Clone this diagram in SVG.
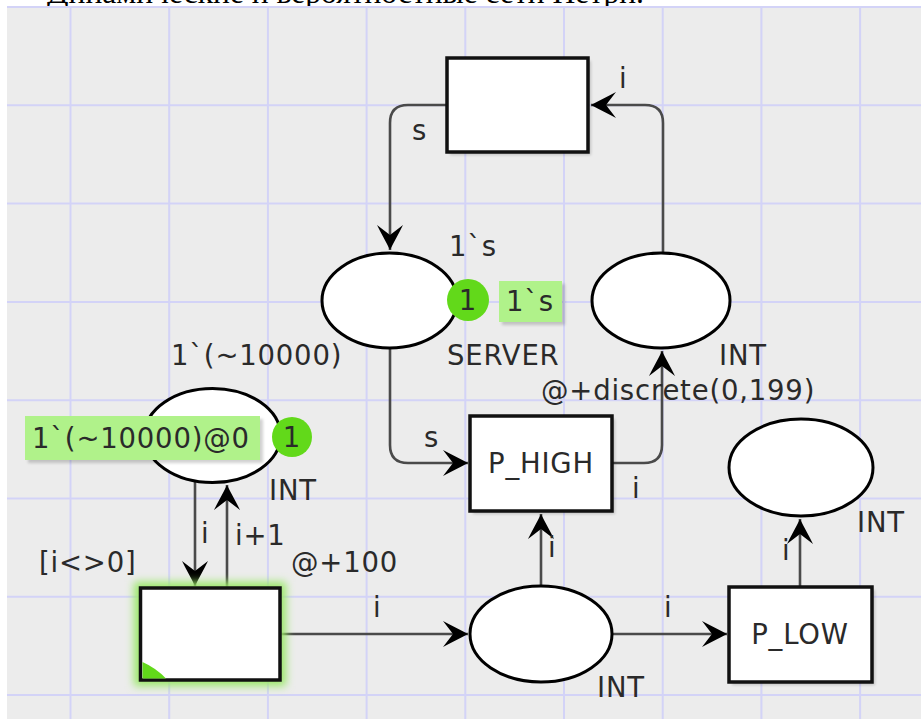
<svg xmlns="http://www.w3.org/2000/svg" width="921" height="719" viewBox="0 0 921 719">
<defs>
<style>
.grid line{stroke:#d3d3f7;stroke-width:2}
.place{fill:#fff;stroke:#000;stroke-width:3}
.trans{fill:#fff;stroke:#111;stroke-width:3.5}
.arc{fill:none;stroke:#4a4a4a;stroke-width:2.6}
.lbl{font-family:"DejaVu Sans",Verdana,sans-serif;font-size:27.5px;fill:#2a2a2a;letter-spacing:0.8px}
.tokc{fill:#62d91a}
.tokbox{fill:#b0f28a}
.shadow{fill:#000;opacity:0.18}
</style>
<marker id="ah" viewBox="-28 -15 30 30" markerWidth="30" markerHeight="30" refX="0" refY="0" orient="auto" markerUnits="userSpaceOnUse">
<path d="M0,0 C-8,-4 -17,-9 -25,-13 L-15,0 L-25,13 C-17,9 -8,4 0,0 Z" fill="#000"/>
</marker>
<filter id="glow" x="-30%" y="-30%" width="160%" height="160%">
<feGaussianBlur stdDeviation="4"/>
</filter>
<filter id="soft" x="-20%" y="-20%" width="140%" height="140%">
<feGaussianBlur stdDeviation="1.5"/>
</filter>
</defs>

<rect x="0" y="0" width="921" height="719" fill="#fff"/>
<text x="47" y="3" font-family="'Liberation Serif','Times New Roman',serif" font-size="31" fill="#000" textLength="597" lengthAdjust="spacingAndGlyphs">Динамические и вероятностные сети Петри.</text>
<rect x="7" y="7" width="914" height="712" fill="#ececec"/>

<g class="grid">
<line x1="7" y1="7" x2="921" y2="7"/>
<line x1="7" y1="105.3" x2="921" y2="105.3"/>
<line x1="7" y1="203.6" x2="921" y2="203.6"/>
<line x1="7" y1="301.9" x2="921" y2="301.9"/>
<line x1="7" y1="400.2" x2="921" y2="400.2"/>
<line x1="7" y1="498.5" x2="921" y2="498.5"/>
<line x1="7" y1="596.8" x2="921" y2="596.8"/>
<line x1="7" y1="695.1" x2="921" y2="695.1"/>
<line x1="70.5" y1="7" x2="70.5" y2="719"/>
<line x1="169.2" y1="7" x2="169.2" y2="719"/>
<line x1="267.9" y1="7" x2="267.9" y2="719"/>
<line x1="366.6" y1="7" x2="366.6" y2="719"/>
<line x1="465.3" y1="7" x2="465.3" y2="719"/>
<line x1="564" y1="7" x2="564" y2="719"/>
<line x1="662.7" y1="7" x2="662.7" y2="719"/>
<line x1="761.4" y1="7" x2="761.4" y2="719"/>
<line x1="860.1" y1="7" x2="860.1" y2="719"/>
</g>

<g id="connectors">
<path class="arc" d="M447,105 H408 Q390,105 390,123 V250" marker-end="url(#ah)"/>
<path class="arc" d="M663,253 V123 Q663,105 645,105 H591" marker-end="url(#ah)"/>
<path class="arc" d="M390,348 V445 Q390,463 408,463 H468" marker-end="url(#ah)"/>
<path class="arc" d="M612,463 H644 Q662,463 662,445 V351" marker-end="url(#ah)"/>
<path class="arc" d="M195,482 V586" marker-end="url(#ah)"/>
<path class="arc" d="M227,588 V485" marker-end="url(#ah)"/>
<path class="arc" d="M280,634 H468" marker-end="url(#ah)"/>
<path class="arc" d="M541,586 V514" marker-end="url(#ah)"/>
<path class="arc" d="M612,634 H727" marker-end="url(#ah)"/>
<path class="arc" d="M800,587 V519" marker-end="url(#ah)"/>
<text class="lbl" x="412" y="140">s</text>
<text class="lbl" x="619" y="88">i</text>
<text class="lbl" x="424" y="447">s</text>
<text class="lbl" x="632" y="498">i</text>
<text class="lbl" x="201" y="543">i</text>
<text class="lbl" x="235" y="545">i+1</text>
<text class="lbl" x="373" y="617">i</text>
<text class="lbl" x="548" y="557">i</text>
<text class="lbl" x="664" y="617">i</text>
<text class="lbl" x="782" y="560">i</text>
</g>

<g id="t-top">
<rect class="shadow" x="450" y="61" width="141" height="94" filter="url(#soft)"/>
<rect class="trans" x="447" y="58" width="141" height="94"/>
</g>

<g id="p-server">
<ellipse class="place" cx="389.5" cy="300.5" rx="67.5" ry="47.5"/>
<text class="lbl" x="449" y="256">1`s</text>
<text class="lbl" x="447" y="365">SERVER</text>
<circle class="tokc" cx="468" cy="300" r="21"/>
<text class="lbl" x="468" y="310" text-anchor="middle" fill="#111">1</text>
<rect class="shadow" x="502" y="284" width="63" height="41" filter="url(#soft)"/>
<rect class="tokbox" x="499" y="281" width="63" height="41"/>
<text class="lbl" x="506" y="311">1`s</text>
</g>

<g id="p-topright">
<ellipse class="place" cx="661" cy="300.5" rx="69" ry="47.5"/>
<text class="lbl" x="719" y="365">INT</text>
</g>

<g id="t-phigh">
<rect class="shadow" x="473" y="419" width="142" height="95" filter="url(#soft)"/>
<rect class="trans" x="470" y="416" width="142" height="95"/>
<text class="lbl" x="541" y="473" text-anchor="middle">P_HIGH</text>
<text class="lbl" x="541" y="400">@+discrete(0,199)</text>
</g>

<g id="p-left">
<ellipse class="place" cx="212.5" cy="435.5" rx="68" ry="47"/>
<text class="lbl" x="171" y="365">1`(~10000)</text>
<text class="lbl" x="269" y="500">INT</text>
<rect class="shadow" x="28" y="419" width="235" height="44" filter="url(#soft)"/>
<rect class="tokbox" x="25" y="416" width="235" height="44"/>
<text class="lbl" x="32" y="448">1`(~10000)@0</text>
<circle class="tokc" cx="292" cy="437" r="20"/>
<text class="lbl" x="292" y="447" text-anchor="middle" fill="#111">1</text>
</g>

<g id="t-left">
<rect x="134" y="582" width="152" height="104" fill="#9ae868" filter="url(#glow)"/>
<rect class="trans" x="140.5" y="588" width="139.5" height="92"/>
<path d="M142.5,662 Q156,668 166,678.5 L142.5,678.5 Z" fill="#62d91a"/>
<text class="lbl" x="39" y="572">[i&lt;&gt;0]</text>
<text class="lbl" x="291" y="572">@+100</text>
</g>

<g id="p-bottom">
<ellipse class="place" cx="541" cy="634" rx="71" ry="48"/>
<text class="lbl" x="597" y="697">INT</text>
</g>

<g id="t-plow">
<rect class="shadow" x="732" y="590" width="143" height="95" filter="url(#soft)"/>
<rect class="trans" x="729" y="587" width="143" height="95"/>
<text class="lbl" x="800" y="644" text-anchor="middle">P_LOW</text>
</g>

<g id="p-rightbottom">
<ellipse class="place" cx="801" cy="467.5" rx="72" ry="48.5"/>
<text class="lbl" x="857" y="532">INT</text>
</g>
</svg>
